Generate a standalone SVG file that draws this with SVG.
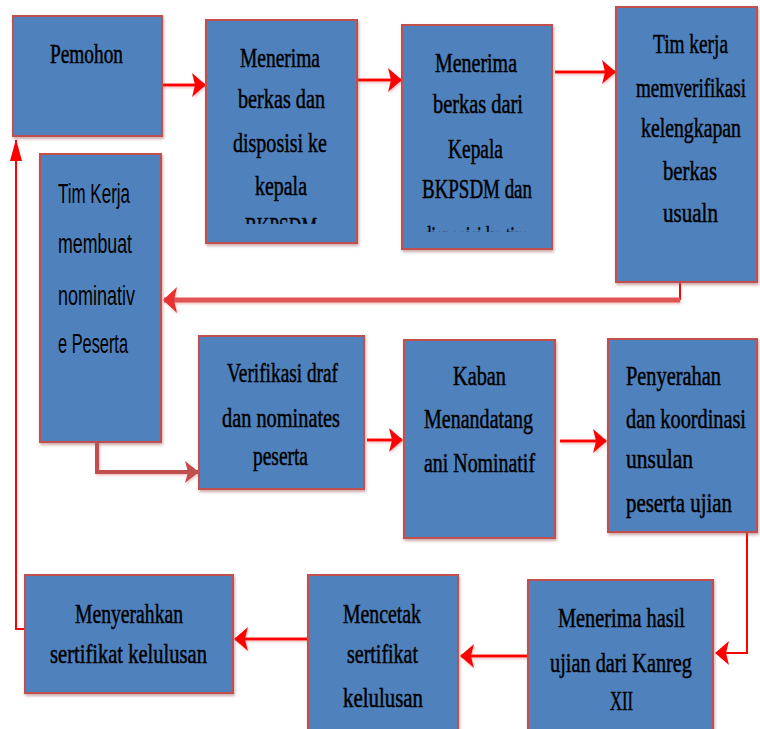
<svg xmlns="http://www.w3.org/2000/svg" width="760" height="729" viewBox="0 0 760 729">
<style>
.box{fill:#4f81bd;stroke:#c0504d;stroke-width:2;filter:url(#sh)}
.t{font-family:"Liberation Serif","Times New Roman",serif;font-size:28px;fill:#000;stroke:#000;stroke-width:0.5}
.s{font-family:"Liberation Sans",Arial,sans-serif;font-size:27px;fill:#000}
.c{fill:none;stroke:#ff0000;stroke-width:3;filter:url(#lsh)}
.thin{fill:none;stroke:#ff0000;stroke-width:2}
.pink{fill:none;stroke:#e05555;stroke-width:5;filter:url(#lsh)}
.dark{fill:none;stroke:#c0504d;stroke-width:4;filter:url(#lsh)}
</style>
<defs>
<filter id="sh" x="-10%" y="-10%" width="125%" height="125%">
<feDropShadow dx="1" dy="2" stdDeviation="1.5" flood-color="#a06060" flood-opacity="0.55"/>
</filter>
<filter id="lsh" filterUnits="userSpaceOnUse" x="0" y="0" width="760" height="729">
<feDropShadow dx="1" dy="1.5" stdDeviation="1" flood-color="#e08080" flood-opacity="0.5"/>
</filter>
<marker id="ar" viewBox="0 0 14 24" markerWidth="14" markerHeight="24" refX="13" refY="12" orient="auto" markerUnits="userSpaceOnUse">
<path d="M0,0 L14,12 L0,24 L3,12 z" fill="#ff0000"/>
</marker>
<marker id="arU" viewBox="0 0 22 12" markerWidth="22" markerHeight="12" refX="21" refY="6" orient="auto" markerUnits="userSpaceOnUse">
<path d="M0,0 L22,6 L0,12 z" fill="#ff0000"/>
</marker>
<marker id="arD" viewBox="0 0 14 22" markerWidth="14" markerHeight="22" refX="13" refY="11" orient="auto" markerUnits="userSpaceOnUse">
<path d="M0,0 L14,11 L0,22 L3,11 z" fill="#c0504d"/>
</marker>
<marker id="arP" viewBox="0 0 14 26" markerWidth="14" markerHeight="26" refX="13" refY="13" orient="auto" markerUnits="userSpaceOnUse">
<path d="M0,0 L14,13 L0,26 L3,13 z" fill="#e83030"/>
</marker>
<clipPath id="cl2"><rect x="206" y="20" width="151" height="204"/></clipPath>
<clipPath id="cl3"><rect x="402" y="25" width="150" height="207"/></clipPath>
</defs>

<g id="connectors">
<path class="c" d="M162,85 H205" marker-end="url(#ar)"/>
<path class="c" d="M358,80 H401" marker-end="url(#ar)"/>
<path class="c" d="M555,72 H615" marker-end="url(#ar)"/>
<path class="thin" d="M680,282 V300"/>
<path class="pink" d="M680,300 H164" marker-end="url(#arP)"/>
<path class="dark" d="M97,442 V472 H198" marker-end="url(#arD)"/>
<path class="c" d="M367,440 H402" marker-end="url(#ar)"/>
<path class="c" d="M560,441 H606" marker-end="url(#ar)"/>
<path class="thin" d="M747,532 V653 H716" marker-end="url(#ar)"/>
<path class="c" d="M528,656 H461" marker-end="url(#ar)"/>
<path class="c" d="M308,639 H235" marker-end="url(#ar)"/>
<path class="thin" d="M25,629 H16 V140" marker-end="url(#arU)"/>
</g>

<g id="n1">
<rect class="box" x="13" y="16" width="149" height="120"/>
<text class="t" x="50" y="63" textLength="73" lengthAdjust="spacingAndGlyphs">Pemohon</text>
</g>

<g id="n2">
<rect class="box" x="206" y="20" width="151" height="223"/>
<g clip-path="url(#cl2)">
<text class="t" x="240" y="67" textLength="80" lengthAdjust="spacingAndGlyphs">Menerima</text>
<text class="t" x="238" y="108" textLength="87" lengthAdjust="spacingAndGlyphs">berkas dan</text>
<text class="t" x="233" y="152" textLength="94" lengthAdjust="spacingAndGlyphs">disposisi ke</text>
<text class="t" x="255" y="195" textLength="52" lengthAdjust="spacingAndGlyphs">kepala</text>
<text class="t" x="245" y="236" textLength="72" lengthAdjust="spacingAndGlyphs">BKPSDM</text>
</g>
</g>

<g id="n3">
<rect class="box" x="402" y="25" width="150" height="224"/>
<g clip-path="url(#cl3)">
<text class="t" x="435" y="72" textLength="82" lengthAdjust="spacingAndGlyphs">Menerima</text>
<text class="t" x="433" y="113" textLength="90" lengthAdjust="spacingAndGlyphs">berkas dari</text>
<text class="t" x="448" y="158" textLength="55" lengthAdjust="spacingAndGlyphs">Kepala</text>
<text class="t" x="422" y="198" textLength="110" lengthAdjust="spacingAndGlyphs">BKPSDM dan</text>
<text class="t" x="423" y="245" textLength="105" lengthAdjust="spacingAndGlyphs">disposisi ke tim</text>
</g>
</g>

<g id="n4">
<rect class="box" x="616" y="7" width="141" height="275"/>
<text class="t" x="653" y="53" textLength="75" lengthAdjust="spacingAndGlyphs">Tim kerja</text>
<text class="t" x="636" y="97" textLength="110" lengthAdjust="spacingAndGlyphs">memverifikasi</text>
<text class="t" x="641" y="137" textLength="100" lengthAdjust="spacingAndGlyphs">kelengkapan</text>
<text class="t" x="663" y="180" textLength="54" lengthAdjust="spacingAndGlyphs">berkas</text>
<text class="t" x="663" y="222" textLength="55" lengthAdjust="spacingAndGlyphs">usualn</text>
</g>

<g id="n5">
<rect class="box" x="40" y="154" width="121" height="288"/>
<text class="s" x="58" y="203" textLength="72" lengthAdjust="spacingAndGlyphs">Tim Kerja</text>
<text class="s" x="58" y="253" textLength="74" lengthAdjust="spacingAndGlyphs">membuat</text>
<text class="s" x="58" y="305" textLength="77" lengthAdjust="spacingAndGlyphs">nominativ</text>
<text class="s" x="58" y="353" textLength="70" lengthAdjust="spacingAndGlyphs">e Peserta</text>
</g>

<g id="n6">
<rect class="box" x="199" y="336" width="165" height="153"/>
<text class="t" x="227" y="382" textLength="111" lengthAdjust="spacingAndGlyphs">Verifikasi draf</text>
<text class="t" x="222" y="427" textLength="118" lengthAdjust="spacingAndGlyphs">dan nominates</text>
<text class="t" x="253" y="465" textLength="55" lengthAdjust="spacingAndGlyphs">peserta</text>
</g>

<g id="n7">
<rect class="box" x="404" y="340" width="151" height="198"/>
<text class="t" x="453" y="385" textLength="53" lengthAdjust="spacingAndGlyphs">Kaban</text>
<text class="t" x="424" y="428" textLength="109" lengthAdjust="spacingAndGlyphs">Menandatang</text>
<text class="t" x="424" y="472" textLength="111" lengthAdjust="spacingAndGlyphs">ani Nominatif</text>
</g>

<g id="n8">
<rect class="box" x="608" y="339" width="149" height="193"/>
<text class="t" x="626" y="385" textLength="95" lengthAdjust="spacingAndGlyphs">Penyerahan</text>
<text class="t" x="626" y="428" textLength="120" lengthAdjust="spacingAndGlyphs">dan koordinasi</text>
<text class="t" x="626" y="468" textLength="67" lengthAdjust="spacingAndGlyphs">unsulan</text>
<text class="t" x="626" y="512" textLength="106" lengthAdjust="spacingAndGlyphs">peserta ujian</text>
</g>

<g id="n9">
<rect class="box" x="528" y="580" width="185" height="160"/>
<text class="t" x="558" y="627" textLength="127" lengthAdjust="spacingAndGlyphs">Menerima hasil</text>
<text class="t" x="550" y="672" textLength="142" lengthAdjust="spacingAndGlyphs">ujian dari Kanreg</text>
<text class="t" x="610" y="710" textLength="23" lengthAdjust="spacingAndGlyphs">XII</text>
</g>

<g id="n10">
<rect class="box" x="308" y="575" width="150" height="165"/>
<text class="t" x="343" y="623" textLength="78" lengthAdjust="spacingAndGlyphs">Mencetak</text>
<text class="t" x="347" y="663" textLength="71" lengthAdjust="spacingAndGlyphs">sertifikat</text>
<text class="t" x="343" y="707" textLength="80" lengthAdjust="spacingAndGlyphs">kelulusan</text>
</g>

<g id="n11">
<rect class="box" x="25" y="575" width="208" height="118"/>
<text class="t" x="75" y="623" textLength="108" lengthAdjust="spacingAndGlyphs">Menyerahkan</text>
<text class="t" x="50" y="663" textLength="157" lengthAdjust="spacingAndGlyphs">sertifikat kelulusan</text>
</g>
</svg>
